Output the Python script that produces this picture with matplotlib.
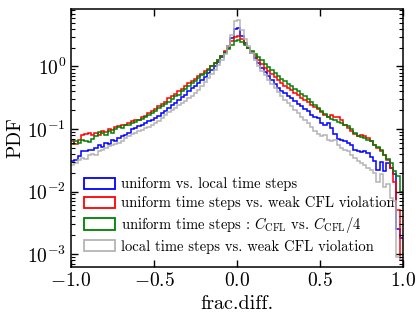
import numpy as np
import matplotlib
matplotlib.use("Agg")
import matplotlib.pyplot as plt
from matplotlib.patches import Patch

plt.rcParams['font.family'] = 'serif'
plt.rcParams['font.serif'] = ['cmr10']
plt.rcParams['mathtext.fontset'] = 'cm'
plt.rcParams['axes.formatter.use_mathtext'] = True
plt.rcParams['axes.unicode_minus'] = False

# histogram range and bin count
x_min, x_max, n_bins = -1.0, 1.0, 100

labels = [
    "uniform vs. local time steps",
    "uniform time steps vs. weak CFL violation",
    r"uniform time steps : $C_{\rm CFL}$ vs. $C_{\rm CFL}/4$",
    "local time steps vs. weak CFL violation",
]
colors = ["#0000ff", "#ff0000", "#008000", "#b4b4b4"]

pdf_uniform_local = [
    0.0302, 0.0316, 0.0363, 0.0437, 0.0447, 0.0468, 0.0457, 0.0501, 0.0550, 0.0513,
    0.0603, 0.0575, 0.0661, 0.0646, 0.0724, 0.0759, 0.0794, 0.0871, 0.100, 0.102,
    0.110, 0.117, 0.123, 0.132, 0.138, 0.151, 0.162, 0.178, 0.195, 0.214,
    0.240, 0.263, 0.288, 0.324, 0.355, 0.398, 0.447, 0.490, 0.537, 0.603,
    0.676, 0.776, 0.871, 1.00, 1.17, 1.41, 1.70, 2.09, 2.82, 3.98,
    4.17, 3.09, 2.40, 1.95, 1.62, 1.35, 1.12, 0.933, 0.813, 0.708,
    0.617, 0.525, 0.457, 0.407, 0.372, 0.339, 0.309, 0.282, 0.251, 0.229,
    0.209, 0.191, 0.170, 0.158, 0.151, 0.126, 0.115, 0.123, 0.102, 0.0832,
    0.0692, 0.0676, 0.0631, 0.0603, 0.0550, 0.0468, 0.0437, 0.0427, 0.0447, 0.0417,
    0.0355, 0.0302, 0.0224, 0.0295, 0.0209, 0.0282, 0.0240, 0.0191, 0.00251, 0.00178,
]

pdf_uniform_weakcfl = [
    0.0631, 0.0575, 0.0661, 0.0794, 0.0832, 0.0851, 0.0813, 0.0871, 0.0794, 0.0933,
    0.0891, 0.100, 0.0955, 0.107, 0.110, 0.117, 0.115, 0.126, 0.132, 0.138,
    0.141, 0.158, 0.162, 0.182, 0.191, 0.209, 0.229, 0.251, 0.275, 0.309,
    0.339, 0.363, 0.398, 0.437, 0.490, 0.537, 0.575, 0.631, 0.692, 0.759,
    0.832, 0.912, 1.02, 1.15, 1.29, 1.48, 1.74, 2.00, 2.51, 2.95,
    3.02, 2.75, 2.29, 2.00, 1.70, 1.45, 1.26, 1.10, 0.955, 0.851,
    0.759, 0.676, 0.603, 0.537, 0.490, 0.447, 0.417, 0.380, 0.347, 0.316,
    0.295, 0.269, 0.245, 0.224, 0.209, 0.186, 0.170, 0.158, 0.166, 0.155,
    0.158, 0.138, 0.117, 0.105, 0.0912, 0.0832, 0.0759, 0.0794, 0.0759, 0.0724,
    0.0631, 0.0562, 0.0501, 0.0447, 0.0380, 0.0316, 0.0240, 0.0141, 0.00501, 0.000794,
]

pdf_uniform_cfl4 = [
    0.0575, 0.0631, 0.0603, 0.0676, 0.0646, 0.0617, 0.0692, 0.0759, 0.0891, 0.0871,
    0.0794, 0.0912, 0.0871, 0.100, 0.107, 0.105, 0.115, 0.117, 0.126, 0.129,
    0.141, 0.145, 0.158, 0.170, 0.182, 0.195, 0.214, 0.234, 0.251, 0.275,
    0.302, 0.331, 0.355, 0.398, 0.437, 0.490, 0.537, 0.589, 0.646, 0.724,
    0.794, 0.891, 1.00, 1.12, 1.29, 1.45, 1.66, 1.91, 2.19, 2.51,
    2.63, 2.45, 2.24, 2.00, 1.78, 1.58, 1.41, 1.26, 1.10, 0.977,
    0.891, 0.794, 0.708, 0.631, 0.575, 0.525, 0.479, 0.437, 0.398, 0.363,
    0.331, 0.302, 0.269, 0.245, 0.219, 0.195, 0.174, 0.158, 0.145, 0.138,
    0.129, 0.126, 0.117, 0.110, 0.100, 0.0871, 0.0776, 0.0741, 0.0708, 0.0676,
    0.0631, 0.0562, 0.0513, 0.0457, 0.0389, 0.0331, 0.0282, 0.0209, 0.0178, 0.0100,
]

pdf_local_weakcfl = [
    0.0263, 0.0282, 0.0316, 0.0339, 0.0331, 0.0380, 0.0398, 0.0389, 0.0447, 0.0468,
    0.0501, 0.0537, 0.0562, 0.0575, 0.0603, 0.0631, 0.0708, 0.0759, 0.0832, 0.0871,
    0.0912, 0.0955, 0.102, 0.107, 0.115, 0.123, 0.135, 0.148, 0.166, 0.186,
    0.204, 0.219, 0.240, 0.263, 0.282, 0.309, 0.339, 0.380, 0.427, 0.490,
    0.562, 0.661, 0.759, 0.891, 1.05, 1.29, 1.58, 2.14, 3.16, 5.37,
    5.50, 3.80, 2.75, 2.14, 1.66, 1.29, 1.02, 0.851, 0.724, 0.617,
    0.525, 0.447, 0.389, 0.339, 0.295, 0.263, 0.234, 0.204, 0.178, 0.158,
    0.138, 0.123, 0.107, 0.0933, 0.0832, 0.0759, 0.0794, 0.0676, 0.0631, 0.0661,
    0.0562, 0.0501, 0.0468, 0.0437, 0.0389, 0.0339, 0.0302, 0.0282, 0.0269, 0.0240,
    0.0219, 0.0200, 0.0141, 0.0191, 0.0120, 0.0132, 0.00794, 0.00708, 0.000891, 0.000794,
]

series = [pdf_uniform_local, pdf_uniform_weakcfl, pdf_uniform_cfl4, pdf_local_weakcfl]

edges = np.linspace(x_min, x_max, n_bins + 1)

fig = plt.figure(figsize=(4.16, 3.16), dpi=100)
ax = fig.add_axes([71 / 416, 1 - 267 / 316, 332 / 416, 258 / 316])

for vals, col, lab in zip(series, colors, labels):
    ax.stairs(vals, edges, color=col, lw=1.1, label=lab, baseline=None)

ax.set_yscale('log')
ax.set_xlim(-1, 1)
ax.set_ylim(6.2e-4, 8.3)
ax.set_xticks([-1.0, -0.5, 0.0, 0.5, 1.0])
ax.set_xlabel('frac.diff.', fontsize=14.5, labelpad=4)
ax.set_ylabel('PDF', fontsize=14, labelpad=2)
ax.tick_params(which='both', direction='in', top=True, right=True, labelsize=14)
ax.tick_params(which='major', length=5, width=1.0)
ax.tick_params(which='minor', length=2.8, width=0.8)
for s in ax.spines.values():
    s.set_linewidth(1.1)

handles = [Patch(facecolor='none', edgecolor=c, lw=1.3) for c in colors]
ax.legend(handles, labels, loc='lower left', frameon=False, fontsize=10.5,
          handlelength=2.1, handleheight=0.8, labelspacing=0.33, handletextpad=0.45)

fig.savefig('out.png', dpi=100)
